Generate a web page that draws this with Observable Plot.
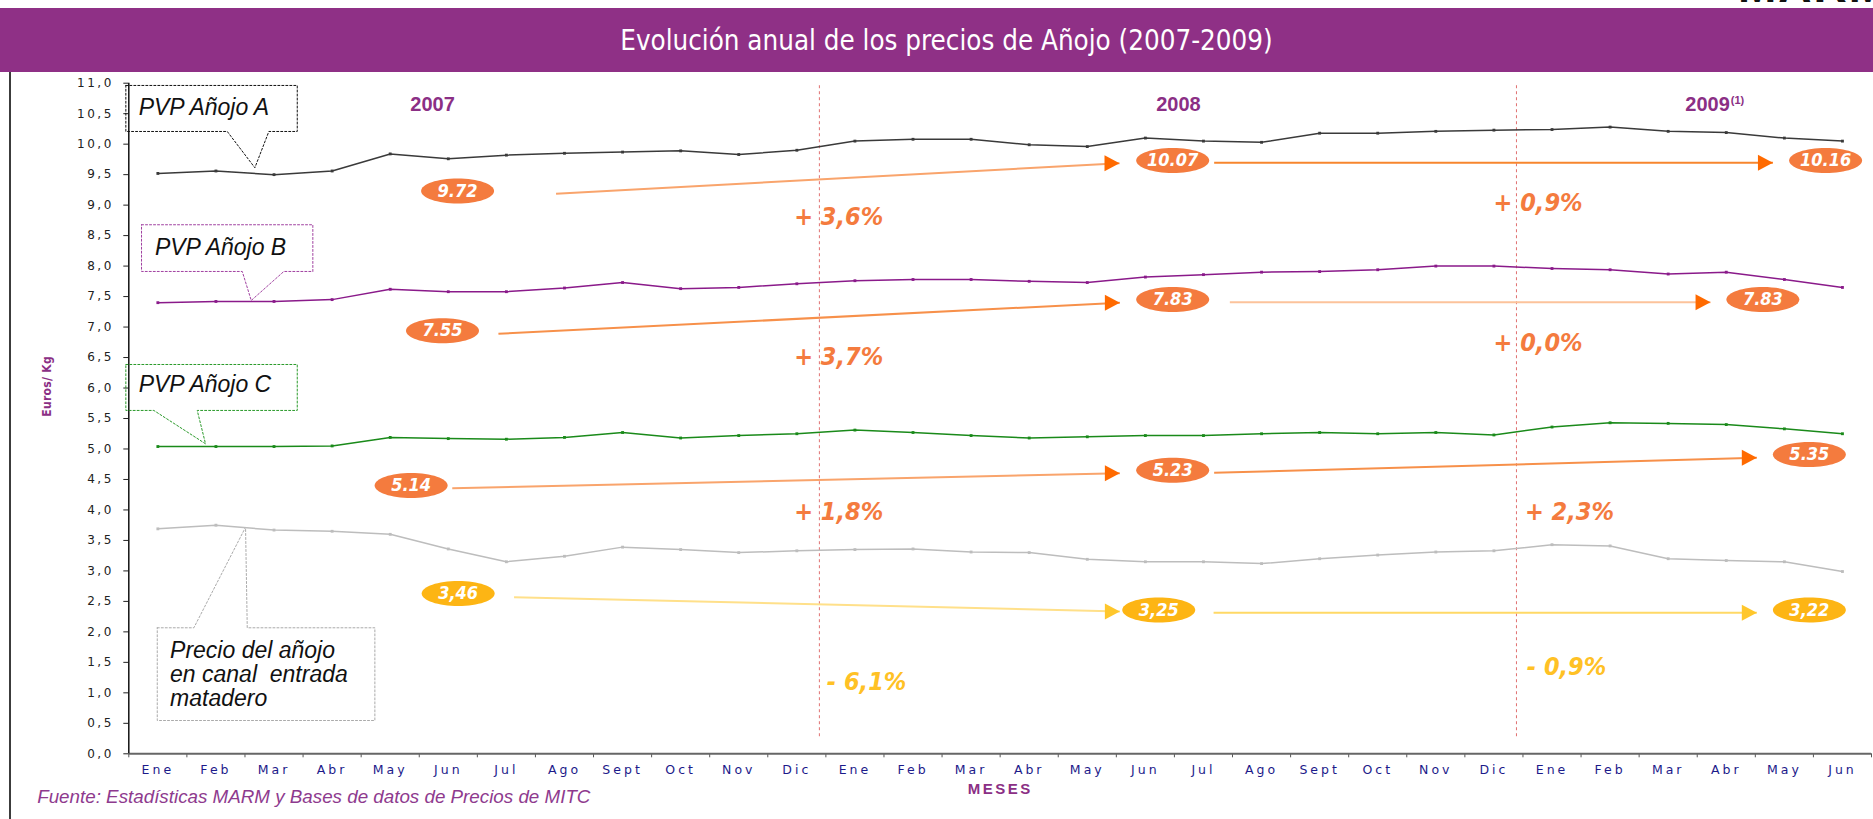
<!DOCTYPE html>
<html>
<head>
<meta charset="utf-8">
<script src="https://cdn.jsdelivr.net/npm/d3@7"></script>
<script src="https://cdn.jsdelivr.net/npm/@observablehq/plot@0.6"></script>
<style>
  html, body { margin: 0; padding: 0; background: #fff; }
  #page { position: relative; width: 1873px; height: 819px; overflow: hidden; background: #fff; }
  #header { position: absolute; left: 0; top: 8px; width: 1873px; height: 64px; background: #8f3086;
    color: #fff; font-family: "DejaVu Sans Condensed", "Liberation Sans", sans-serif;
    font-size: 27.5px; line-height: 64px; text-align: center; box-sizing: border-box; padding-left: 20px; }
  #logo { position: absolute; left: 1738px; top: -37px; font-family: "Liberation Sans", Arial, sans-serif;
    font-weight: bold; font-size: 46px; line-height: 46px; color: #111; letter-spacing: 2px; }
  #border { position: absolute; left: 9px; top: 72px; width: 2px; height: 747px; background: #3c3c3c; }
  #chart { position: absolute; left: 0; top: 72px; }
  #chart g[aria-label="y-axis tick label"] text { letter-spacing: 2.5px; font-family: "DejaVu Sans", sans-serif; font-size: 12px; }
  #chart g[aria-label="x-axis tick label"] text { letter-spacing: 3px; font-family: "DejaVu Sans", sans-serif; font-size: 12.5px; }
</style>
</head>
<body>
<div id="page">
  <div id="logo">MARM</div>
  <div id="header">Evolución anual de los precios de Añojo (2007-2009)</div>
  <div id="border"></div>
  <div id="chart"></div>
</div>
<script>
// ---------- data ----------
const months = ["Ene","Feb","Mar","Abr","May","Jun","Jul","Ago","Sept","Oct","Nov","Dic",
                "Ene","Feb","Mar","Abr","May","Jun","Jul","Ago","Sept","Oct","Nov","Dic",
                "Ene","Feb","Mar","Abr","May","Jun"];
const yTicks = [0,0.5,1,1.5,2,2.5,3,3.5,4,4.5,5,5.5,6,6.5,7,7.5,8,8.5,9,9.5,10,10.5,11];

const pvpA = [9.52,9.56,9.50,9.56,9.84,9.76,9.82,9.85,9.87,9.89,9.83,9.90,
              10.05,10.08,10.08,9.99,9.96,10.10,10.05,10.03,10.18,10.18,10.21,10.23,
              10.24,10.28,10.21,10.19,10.10,10.05];
const pvpB = [7.40,7.42,7.42,7.45,7.62,7.58,7.58,7.64,7.73,7.63,7.65,7.71,
              7.76,7.78,7.78,7.75,7.73,7.82,7.86,7.90,7.91,7.94,8.00,8.00,
              7.96,7.94,7.87,7.90,7.78,7.65];
const pvpC = [5.04,5.04,5.04,5.05,5.19,5.17,5.16,5.19,5.27,5.18,5.22,5.25,
              5.31,5.27,5.22,5.18,5.20,5.22,5.22,5.25,5.27,5.25,5.27,5.23,
              5.36,5.43,5.42,5.40,5.33,5.25];
const canal = [3.69,3.75,3.67,3.65,3.60,3.36,3.15,3.24,3.39,3.35,3.30,3.33,
               3.35,3.36,3.31,3.30,3.19,3.15,3.15,3.12,3.20,3.26,3.31,3.33,
               3.43,3.41,3.20,3.17,3.15,2.99];
const seriesNames = ["PVP Añojo A","PVP Añojo B","PVP Añojo C","Canal"];
const seriesColors = ["#3a3a3a","#8a1a8a","#1a8a1a","#bdbdbd"];

// average badges
const badgeLabels = ["9.72","10.07","10.16","7.55","7.83","7.83","5.14","5.23","5.35","3,46","3,25","3,22"];
const badgeX = [5.16,17.47,28.71,4.90,17.47,27.63,4.36,17.47,28.43,5.17,17.23,28.43];
const badgeY = [9.23,9.73,9.73,6.94,7.45,7.45,4.40,4.65,4.91,2.63,2.36,2.36];
const badgeFill = ["#f47b3e","#f47b3e","#f47b3e","#f47b3e","#f47b3e","#f47b3e",
                   "#f47b3e","#f47b3e","#f47b3e","#fdb514","#fdb514","#fdb514"];

// arrows between badges
const arrowX1 = [6.855,18.184,5.863,18.454,5.068,18.184,6.132,18.174];
const arrowY1 = [9.186,9.695,6.890,7.408,4.357,4.610,2.569,2.313];
const arrowX2 = [16.555,27.803,16.561,26.729,16.561,27.526,16.561,27.526];
const arrowY2 = [9.688,9.695,7.398,7.408,4.603,4.856,2.334,2.313];
const arrowLine = ["#f9a46c","#f7862e","#f7904a","#fcc39b","#f9a46c","#f7904a","#ffe08a","#ffd966"];
const arrowHead = ["#ff6a00","#ff6a00","#ff6a00","#ff6a00","#ff6a00","#ff6a00","#ffc72c","#ffc72c"];

// percentage changes
const pctText = ["+ 3,6%","+ 3,7%","+ 1,8%","- 6,1%","+ 0,9%","+ 0,0%","+ 2,3%","- 0,9%"];
const pctX = [11.72,11.72,11.72,12.20,23.76,23.76,24.30,24.25];
const pctY = [8.80,6.51,3.96,1.18,9.03,6.74,3.96,1.42];
const pctColor = ["#f47b3e","#f47b3e","#f47b3e","#ffc125","#f47b3e","#f47b3e","#f47b3e","#ffc125"];

// year labels
const yearText = ["2007","2008"];
const yearX = [4.73,17.57];
const lastYear = "2009";
const lastYearX = 27.06;
const lastYearNote = "(1)";
const yearY = 10.65;
const yearBoundaries = [11.5, 23.5];

// callouts
const calloutText = ["PVP Añojo A","PVP Añojo B","PVP Añojo C","Precio del añojo\nen canal  entrada\nmatadero"];
const calloutTextX = [-0.33,-0.05,-0.33,0.21];
const calloutTextY = [10.61,8.31,6.06,1.30];
const calloutColor = ["#111111","#a040a0","#2a9a2a","#aaaaaa"];
const calloutShapes = [
  [[-0.551,10.963],[2.400,10.963],[2.400,10.208],[1.911,10.208],[1.670,9.613],[1.195,10.208],[-0.551,10.208],[-0.551,10.963]],
  [[-0.281,8.678],[2.668,8.678],[2.668,7.912],[2.169,7.912],[1.608,7.436],[1.453,7.912],[-0.281,7.912],[-0.281,8.678]],
  [[-0.551,6.386],[2.400,6.386],[2.400,5.632],[0.678,5.632],[0.821,5.085],[-0.069,5.632],[-0.551,5.632],[-0.551,6.386]],
  [[-0.010,2.067],[0.620,2.067],[1.510,3.717],[1.539,2.067],[3.736,2.067],[3.736,0.546],[-0.010,0.546],[-0.010,2.067]]
];

// ---------- tables ----------
const rows = [];
[pvpA, pvpB, pvpC, canal].forEach((vals, s) => vals.forEach((v, i) =>
  rows.push({s: seriesNames[s], i, v, color: seriesColors[s]})));
const badges = badgeLabels.map((t, k) => ({t, x: badgeX[k], y: badgeY[k], fill: badgeFill[k]}));
const arrows = arrowX1.map((_, k) => ({x1: arrowX1[k], y1: arrowY1[k], x2: arrowX2[k], y2: arrowY2[k], line: arrowLine[k], head: arrowHead[k]}));
const pcts = pctText.map((t, k) => ({t, x: pctX[k], y: pctY[k], c: pctColor[k]}));
const years = yearText.map((t, k) => ({t, x: yearX[k]}));
const callPts = calloutShapes.flatMap((pts, k) => pts.map(([x, y]) => ({id: k, x, y, c: calloutColor[k]})));
const callTxt = calloutText.map((t, k) => ({t, x: calloutTextX[k], y: calloutTextY[k]}));

// ---------- symbols ----------
const ellipse = {draw(ctx) {
  const rx = 36.5, ry = 12.5, k = 0.5523;
  ctx.moveTo(rx, 0);
  ctx.bezierCurveTo(rx, ry * k, rx * k, ry, 0, ry);
  ctx.bezierCurveTo(-rx * k, ry, -rx, ry * k, -rx, 0);
  ctx.bezierCurveTo(-rx, -ry * k, -rx * k, -ry, 0, -ry);
  ctx.bezierCurveTo(rx * k, -ry, rx, -ry * k, rx, 0);
  ctx.closePath();
}};
const headShape = {draw(ctx) {
  ctx.moveTo(0, 0); ctx.lineTo(-15, -8); ctx.lineTo(-15, 8); ctx.closePath();
}};

const narrow = '"DejaVu Sans Condensed", "Liberation Sans", sans-serif';
const purple = "#8b2f85";

const chart = Plot.plot({
  width: 1873,
  height: 747,
  marginLeft: 128.3,
  marginRight: 2,
  marginTop: 10.7,
  marginBottom: 65.7,
  style: {fontFamily: '"Liberation Sans", Arial, sans-serif', background: "transparent", overflow: "visible"},
  x: {domain: [-0.5, 29.5], axis: null},
  y: {domain: [0, 11], axis: null},
  color: {type: "identity"},
  marks: [
    // year separators
    Plot.ruleX(yearBoundaries, {y1: 0.28, y2: 10.96, dx: -6.5, stroke: "#e07070", strokeWidth: 1, strokeDasharray: "3,3"}),
    // axes
    Plot.axisY({ticks: yTicks, tickFormat: d => d.toFixed(1).replace(".", ","), tickSize: 5, tickPadding: 10, stroke: "#222", fill: "#222"}),
    Plot.axisX({ticks: d3.range(31).map(i => i - 0.5), tickFormat: () => "", tickSize: 4, stroke: "#555"}),
    Plot.axisX({ticks: d3.range(30), tickFormat: i => months[i], tickSize: 0, tickPadding: 11, fill: "#1c1a8a"}),
    Plot.ruleY([0], {stroke: "#666", strokeWidth: 2}),
    Plot.ruleX([-0.5], {stroke: "#111", strokeWidth: 1.5}),
    // callout boxes
    Plot.line(callPts, {x: "x", y: "y", z: "id", stroke: "c", strokeWidth: 1, strokeDasharray: "2,2"}),
    Plot.text(callTxt, {x: "x", y: "y", text: "t", textAnchor: "start", fontSize: 23, fontStyle: "italic", fill: "#111", lineHeight: 1.03}),
    // series
    Plot.line(rows, {x: "i", y: "v", z: "s", stroke: "color", strokeWidth: 1.5}),
    Plot.dot(rows, {x: "i", y: "v", fill: "color", symbol: "square", r: 1.6}),
    // arrows
    Plot.link(arrows, {x1: "x1", y1: "y1", x2: "x2", y2: "y2", stroke: "line", strokeWidth: 2}),
    Plot.dot(arrows, {x: "x2", y: "y2", symbol: headShape, fill: "head", r: 5}),
    // badges
    Plot.dot(badges, {x: "x", y: "y", symbol: ellipse, fill: "fill", r: 5}),
    Plot.text(badges, {x: "x", y: "y", text: "t", fill: "white", fontSize: 18, fontWeight: "bold", fontStyle: "italic", fontFamily: narrow}),
    // percentage changes
    Plot.text(pcts, {x: "x", y: "y", text: "t", fill: "c", fontSize: 25, fontWeight: "bold", fontStyle: "italic", fontFamily: narrow}),
    // years
    Plot.text(years, {x: "x", y: () => yearY, text: "t", fill: purple, fontSize: 20, fontWeight: "bold"}),
    Plot.text([lastYear], {x: () => lastYearX, y: () => yearY, text: d => d, textAnchor: "end", fill: purple, fontSize: 20, fontWeight: "bold"}),
    Plot.text([lastYearNote], {x: () => lastYearX, y: () => yearY, text: d => d, textAnchor: "start", dx: 1, dy: -4, fill: purple, fontSize: 11, fontWeight: "bold"}),
    // axis titles and source
    Plot.text(["Euros/ Kg"], {y: () => 5.53, text: d => d, frameAnchor: "left", dx: -81.6, rotate: -90, fill: purple, fontSize: 12, fontWeight: "bold", fontFamily: narrow}),
    Plot.text(["MESES"], {x: () => 14.5, text: d => d, frameAnchor: "bottom", dy: 39.7, fill: purple, fontSize: 15, fontWeight: "bold"}),
    Plot.text(["Fuente: Estadísticas MARM y Bases de datos de Precios de MITC"], {text: d => d, frameAnchor: "bottom-left", dx: -91.6, dy: 48.7, textAnchor: "start", fill: "#8e3a8e", fontSize: 18.8, fontStyle: "italic"})
  ]
});
document.getElementById("chart").appendChild(chart);
// stretched look of the small axis captions
d3.select(chart).selectAll("text").filter(function() { return this.textContent === "MESES"; }).style("letter-spacing", "2.5px");
d3.select(chart).selectAll("text").filter(function() { return this.textContent === "Euros/ Kg"; }).style("letter-spacing", "0.3px");
</script>
</body>
</html>
